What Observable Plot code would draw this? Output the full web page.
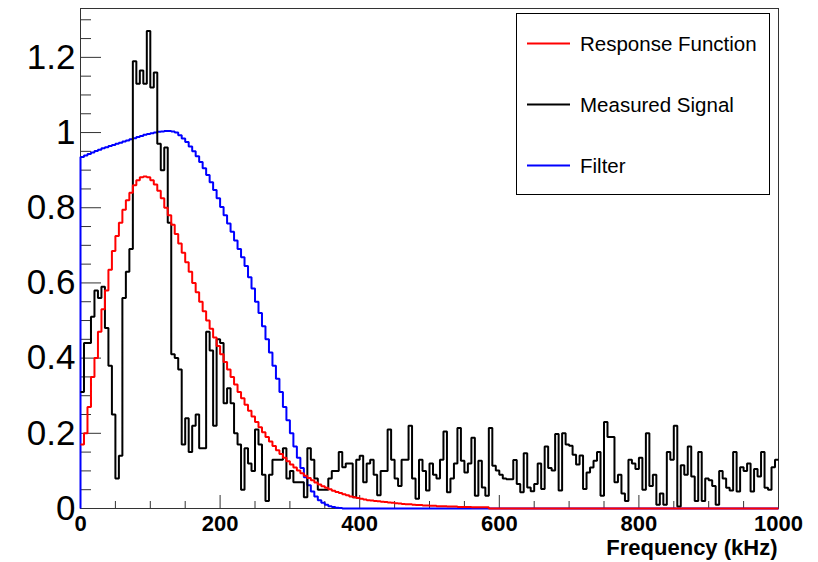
<!DOCTYPE html>
<html><head><meta charset="utf-8">
<script src="https://cdn.jsdelivr.net/npm/d3@7"></script>
<script src="https://cdn.jsdelivr.net/npm/@observablehq/plot@0.6"></script>
<style>
body{margin:0;background:#fff;}
#chart{width:818px;height:562px;}
</style></head><body><div id="chart"></div>
<script>
const binWidth = 5; // kHz per bin, 200 bins from 0 to 1000 kHz

const measuredSignal = [
 0.31,0.44,0.44,0.51,0.58,0.56,0.59,0.48,0.38,0.25,
 0.08,0.14,0.56,0.63,0.69,1.19,1.13,1.165,1.13,1.27,
 1.12,1.16,0.97,0.90,0.96,0.76,0.41,0.40,0.37,0.17,
 0.24,0.15,0.22,0.25,0.16,0.16,0.47,0.42,0.22,0.45,
 0.44,0.28,0.32,0.28,0.20,0.17,0.05,0.16,0.12,0.10,
 0.21,0.17,0.09,0.02,0.09,0.13,0.13,0.13,0.16,0.08,
 0.10,0.07,0.07,0.07,0.03,0.16,0.13,0.08,0.05,0.05,
 0.05,0.08,0.10,0.10,0.15,0.11,0.12,0.12,0.03,0.13,
 0.14,0.07,0.12,0.13,0.09,0.035,0.10,0.10,0.21,0.13,
 0.08,0.06,0.13,0.13,0.22,0.08,0.026,0.13,0.10,0.048,
 0.12,0.09,0.08,0.13,0.205,0.043,0.08,0.12,0.214,0.127,
 0.096,0.12,0.188,0.034,0.127,0.056,0.034,0.214,0.114,0.101,
 0.09,0.08,0.078,0.078,0.129,0.065,0.043,0.147,0.056,0.046,
 0.065,0.12,0.052,0.165,0.108,0.101,0.198,0.048,0.20,0.17,
 0.167,0.143,0.117,0.141,0.052,0.096,0.109,0.127,0.15,0.034,
 0.23,0.19,0.19,0.07,0.09,0.04,0.02,0.13,0.12,0.105,
 0.135,0.05,0.20,0.06,0.09,0.01,0.04,0.01,0.15,0.13,
 0.22,0.005,0.115,0.09,0.165,0.085,0.02,0.15,0.02,0.08,
 0.075,0.06,0.01,0.10,0.08,0.055,0.048,0.15,0.045,0.11,
 0.10,0.12,0.045,0.105,0.085,0.15,0.055,0.05,0.11,0.13
];

const responseFunction = [
 0.17,0.20,0.27,0.35,0.40,0.47,0.53,0.58,0.635,0.685,
 0.725,0.76,0.795,0.82,0.84,0.86,0.873,0.881,0.883,0.881,
 0.873,0.862,0.845,0.825,0.80,0.78,0.755,0.73,0.705,0.68,
 0.655,0.63,0.60,0.575,0.55,0.525,0.50,0.478,0.455,0.432,
 0.41,0.39,0.37,0.35,0.33,0.31,0.293,0.276,0.26,0.245,
 0.23,0.216,0.203,0.19,0.178,0.166,0.155,0.145,0.135,0.126,
 0.117,0.109,0.101,0.094,0.087,0.081,0.075,0.069,0.064,0.059,
 0.055,0.051,0.047,0.044,0.041,0.038,0.035,0.032,0.030,0.028,
 0.026,0.024,0.022,0.021,0.020,0.019,0.018,0.017,0.016,0.015,
 0.014,0.013,0.012,0.011,0.011,0.010,0.009,0.009,0.008,0.008,
 0.007,0.007,0.006,0.006,0.006,0.005,0.005,0.005,0.004,0.004,
 0.004,0.004,0.003,0.003,0.003,0.003,0.003,0,0,0,
 0,0,0,0,0,0,0,0,0,0,
 0,0,0,0,0,0,0,0,0,0,
 0,0,0,0,0,0,0,0,0,0,
 0,0,0,0,0,0,0,0,0,0,
 0,0,0,0,0,0,0,0,0,0,
 0,0,0,0,0,0,0,0,0,0,
 0,0,0,0,0,0,0,0,0,0,
 0,0,0,0,0,0,0,0,0,0
];

const filterValues = [
 0.935,0.939,0.943,0.947,0.951,0.954,0.958,0.961,0.964,0.967,
 0.970,0.973,0.976,0.979,0.982,0.985,0.988,0.991,0.994,0.996,
 0.998,1.000,1.002,1.003,1.004,1.004,1.003,1.000,0.993,0.984,
 0.975,0.963,0.950,0.937,0.922,0.905,0.887,0.868,0.847,0.825,
 0.802,0.780,0.758,0.736,0.713,0.690,0.668,0.645,0.615,0.585,
 0.55,0.52,0.485,0.45,0.415,0.38,0.345,0.31,0.27,0.235,
 0.20,0.165,0.135,0.108,0.083,0.062,0.045,0.032,0.022,0.015,
 0.010,0.006,0.004,0.002,0.001,0,0,0,0,0,
 0,0,0,0,0,0,0,0,0,0,
 0,0,0,0,0,0,0,0,0,0,
 0,0,0,0,0,0,0,0,0,0,
 0,0,0,0,0,0,0,0,0,0,
 0,0,0,0,0,0,0,0,0,0,
 0,0,0,0,0,0,0,0,0,0,
 0,0,0,0,0,0,0,0,0,0,
 0,0,0,0,0,0,0,0,0,0,
 0,0,0,0,0,0,0,0,0,0,
 0,0,0,0,0,0,0,0,0,0,
 0,0,0,0,0,0,0,0,0,0,
 0,0,0,0,0,0,0,0,0,0
];

const xMajorTicks = [0, 200, 400, 600, 800, 1000];
const xMinorTicks = [50,100,150,250,300,350,450,500,550,650,700,750,850,900,950];
const yMajorTicks = [0, 0.2, 0.4, 0.6, 0.8, 1, 1.2];
const yMinorTicks = [0.05,0.1,0.15,0.25,0.3,0.35,0.45,0.5,0.55,0.65,0.7,0.75,0.85,0.9,0.95,1.05,1.1,1.15,1.25,1.3];
const xTitle = "Frequency (kHz)";
const legendLabels = ["Response Function", "Measured Signal", "Filter"];
const legendColors = ["#ff0000", "#000000", "#0000ff"];

function steps(values, name, fromZero) {
  const pts = [];
  if (fromZero) pts.push({series: name, f: 0, v: 0});
  values.forEach((v, i) => pts.push({series: name, f: i * binWidth, v}));
  pts.push({series: name, f: values.length * binWidth, v: values[values.length - 1]});
  return pts;
}
const filterPts = steps(filterValues, "Filter", true);
const measuredPts = steps(measuredSignal, "Measured Signal", false);
const responsePts = steps(responseFunction, "Response Function", false);

const W = 818, H = 562, mL = 80, mR = 40, mT = 8, mB = 54;
const frameW = W - mL - mR, frameH = H - mT - mB;
const font = "'Liberation Sans', Arimo, Helvetica, Arial, sans-serif";
const lineOpts = {x: "f", y: "v", curve: "step-after", strokeWidth: 2, strokeLinejoin: "miter", strokeLinecap: "butt"};

const plot = Plot.plot({
  width: W, height: H,
  marginLeft: mL, marginRight: mR, marginTop: mT, marginBottom: mB,
  x: {domain: [0, 1000], axis: null},
  y: {domain: [0, 1.33], axis: null},
  style: {fontFamily: font, background: "white", color: "black"},
  marks: [
    Plot.frame({stroke: "#333", strokeWidth: 1}),
    Plot.ruleX(xMinorTicks, {x: d => d, insetTop: frameH - 7, stroke: "#333"}),
    Plot.ruleX(xMajorTicks, {x: d => d, insetTop: frameH - 13, stroke: "#333"}),
    Plot.ruleY(yMinorTicks, {y: d => d, insetRight: frameW - 11, stroke: "#333"}),
    Plot.ruleY(yMajorTicks, {y: d => d, insetRight: frameW - 21, stroke: "#333"}),
    Plot.line(filterPts, {...lineOpts, stroke: "#0000ff"}),
    Plot.line(measuredPts, {...lineOpts, stroke: "#000000"}),
    Plot.line(responsePts, {...lineOpts, stroke: "#ff0000"}),
    Plot.text(xMajorTicks, {x: d => d, text: d => String(d), frameAnchor: "bottom", lineAnchor: "top", dy: 7, fontSize: 22, fontWeight: "bold", fill: "#000"}),
    Plot.text(yMajorTicks, {y: d => d, text: d => String(d), frameAnchor: "left", textAnchor: "end", dx: -5, fontSize: 35, fill: "#000"}),
    Plot.text([xTitle], {text: d => d, frameAnchor: "bottom-right", textAnchor: "end", lineAnchor: "bottom", dy: 46, dx: -1, fontSize: 22, fontWeight: "bold", fill: "#000"})
  ]
});

// legend box (TLegend style)
const svg = d3.select(plot);
const lg = svg.append("g").attr("font-family", font).attr("text-anchor", "start");
lg.append("rect").attr("x", 516.5).attr("y", 13.5).attr("width", 253).attr("height", 181)
  .attr("fill", "white").attr("stroke", "#000").attr("stroke-width", 1);
legendLabels.forEach((label, i) => {
  const cy = 43.5 + i * 61;
  lg.append("line").attr("x1", 527).attr("x2", 570).attr("y1", cy).attr("y2", cy)
    .attr("stroke", legendColors[i]).attr("stroke-width", 2);
  lg.append("text").attr("x", 580).attr("y", cy).attr("dy", "0.35em")
    .attr("text-anchor", "start").attr("font-size", 20.5).attr("fill", "#000").text(label);
});

document.getElementById("chart").appendChild(plot);
</script>
</body></html>
